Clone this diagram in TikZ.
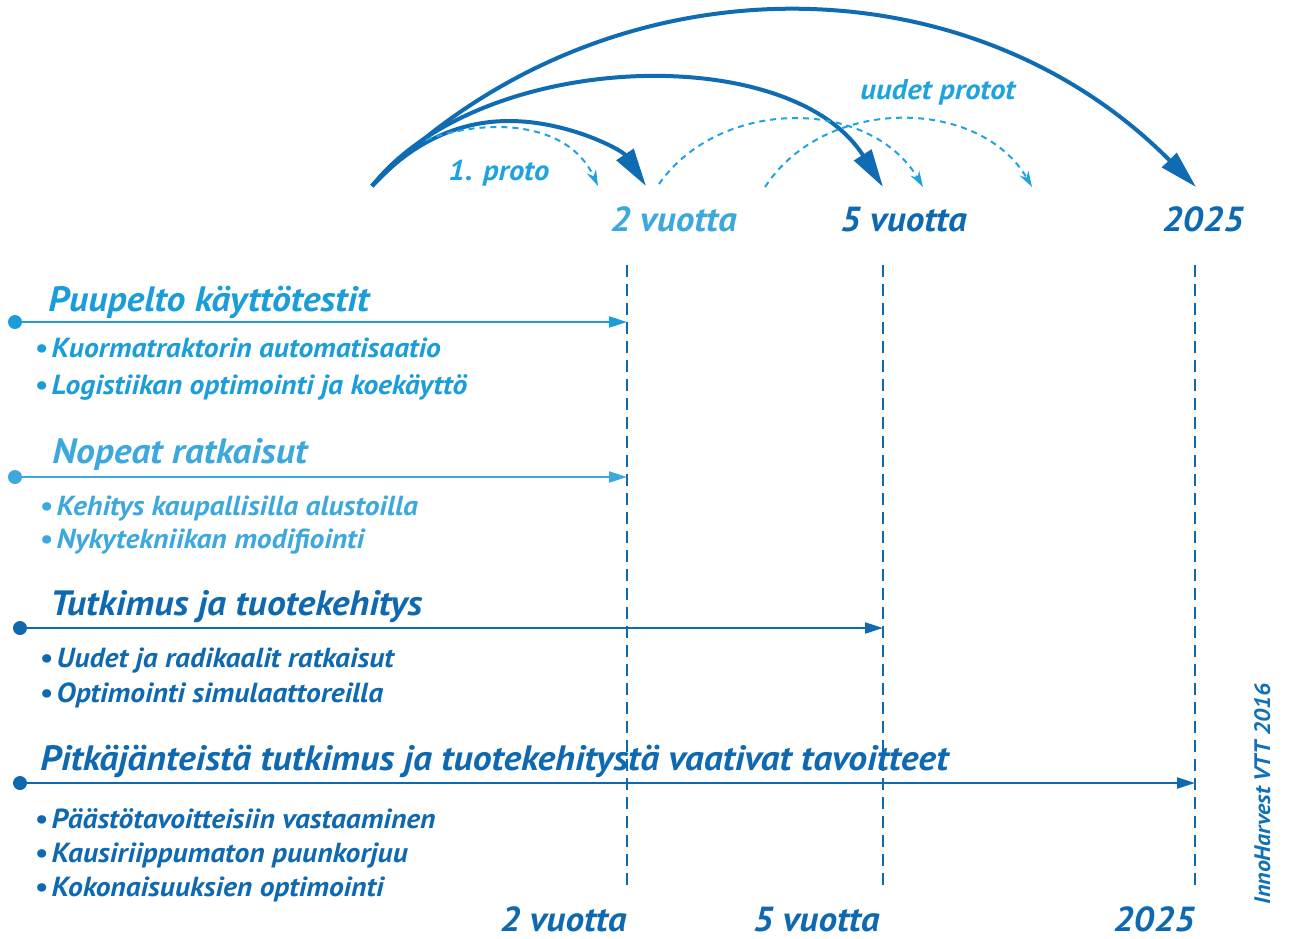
\documentclass[tikz,border=0pt]{standalone}
\usepackage{fontspec}
\setmainfont{PT Sans}[FakeStretch=1.07]
\usetikzlibrary{arrows.meta}
\definecolor{cyanA}{HTML}{1A9DD9}
\definecolor{cyanB}{HTML}{3DA8DC}
\definecolor{cyanC}{HTML}{1EA3DD}
\definecolor{navy}{HTML}{0F69B0}
\definecolor{arcblue}{HTML}{0F6CB3}
\newcommand{\bl}{•\kern2pt}
\tikzset{
  lab/.style={inner sep=0pt, font=\bfseries\itshape},
  ttl/.style={lab, anchor=base west, font=\fontsize{17.6}{20}\selectfont\bfseries\itshape},
  bul/.style={lab, anchor=base west, font=\fontsize{13.8}{16}\selectfont\bfseries\itshape},
  tick/.style={lab, font=\fontsize{17.4}{20}\selectfont\bfseries\itshape},
  small/.style={lab, anchor=base west, font=\fontsize{14.3}{16}\selectfont\bfseries\itshape},
  dot/.style={circle, inner sep=0pt, minimum size=7pt},
  rowline/.style={line width=1pt, -{Triangle[length=9pt,width=5.5pt]}},
  vline/.style={navy, line width=0.7pt, dash pattern=on 6pt off 3.5pt},
  bigarc/.style={arcblue, line width=2pt, -{Triangle[length=19pt,width=10pt]}},
  darc/.style={cyanC, line width=1pt, dash pattern=on 3pt off 2.5pt, -{Stealth[length=8pt,width=5pt]}}
}
\begin{document}
\begin{tikzpicture}[x=0.5pt,y=-0.5pt]
\useasboundingbox (0,0) rectangle (1290,938);

% vertical dashed guides
\coordinate (v2t) at (627,265); \coordinate (v2b) at (627,890);
\coordinate (v5t) at (883,265); \coordinate (v5b) at (883,890);
\coordinate (vYt) at (1195,265); \coordinate (vYb) at (1195,890);
\draw[vline] (v2t) -- (v2b);
\draw[vline] (v5t) -- (v5b);
\draw[vline] (vYt) -- (vYb);

% top arcs
\coordinate (s) at (372,186);
\coordinate (t2) at (646,186);
\coordinate (t5) at (883,187);
\coordinate (tY) at (1196,187);
\coordinate (p3) at (509,121);
\draw[bigarc] (s) .. controls (600,-46) and (965,-46) .. (tY);
\draw[bigarc] (s) .. controls (480,50) and (790,40) .. (t5);
\draw[bigarc] (s) .. controls (405,150) and (450,121) .. (p3) .. controls (568,121) and (622,150) .. (t2);

% dashed arcs
\coordinate (da1) at (426,140); \coordinate (db1) at (598,186);
\coordinate (da2) at (659,184); \coordinate (db2) at (923,187);
\coordinate (da3) at (765,187); \coordinate (db3) at (1032,187);
\draw[darc] (da1) .. controls (485,118) and (568,120) .. (db1);
\draw[darc] (da2) .. controls (720,97) and (870,97) .. (db2);
\draw[darc] (da3) .. controls (825,95) and (980,97) .. (db3);

\node[small, cyanC] (proto1) at (448,180) {1. proto};
\node[small, cyanC] (protot) at (860,99) {uudet protot};

% top tick labels
\node[tick, anchor=base west, cyanB] (top2) at (610,231) {2 vuotta};
\node[tick, anchor=base west, navy] (top5) at (840,231) {5 vuotta};
\node[tick, anchor=base west, navy] (topY) at (1162,231) {2025};

% bottom tick labels
\node[tick, anchor=base east, navy] (bot2) at (627,931) {2 vuotta};
\node[tick, anchor=base east, navy] (bot5) at (880,931) {5 vuotta};
\node[tick, anchor=base east, navy] (botY) at (1195,931) {2025};

% row 1
\node[ttl, cyanA] (r1) at (48,311) {Puupelto käyttötestit};
\node[dot, fill=cyanA] (d1) at (15,322) {};
\coordinate (e1) at (627,322);
\draw[rowline, cyanA] (d1.center) -- (e1);
\node[bul, cyanA] (r1a) at (34,357) {\bl Kuormatraktorin automatisaatio};
\node[bul, cyanA] (r1b) at (34,394) {\bl Logistiikan optimointi ja koekäyttö};

% row 2
\node[ttl, cyanB] (r2) at (52,463) {Nopeat ratkaisut};
\node[dot, fill=cyanB] (d2) at (15,477) {};
\coordinate (e2) at (627,477);
\draw[rowline, cyanB] (d2.center) -- (e2);
\node[bul, cyanB] (r2a) at (39,515) {\bl Kehitys kaupallisilla alustoilla};
\node[bul, cyanB] (r2b) at (39,548) {\bl Nykytekniikan modifiointi};

% row 3
\node[ttl, navy] (r3) at (50,615) {Tutkimus ja tuotekehitys};
\node[dot, fill=navy] (d3) at (20,628) {};
\coordinate (e3) at (883,628);
\draw[rowline, navy] (d3.center) -- (e3);
\node[bul, navy] (r3a) at (39,667) {\bl Uudet ja radikaalit ratkaisut};
\node[bul, navy] (r3b) at (39,702) {\bl Optimointi simulaattoreilla};

% row 4
\node[ttl, navy] (r4) at (40,770) {Pitkäjänteistä tutkimus ja tuotekehitystä vaativat tavoitteet};
\node[dot, fill=navy] (d4) at (20,783) {};
\coordinate (e4) at (1195,783);
\draw[rowline, navy] (d4.center) -- (e4);
\node[bul, navy] (r4a) at (34,828) {\bl Päästötavoitteisiin vastaaminen};
\node[bul, navy] (r4b) at (34,862) {\bl Kausiriippumaton puunkorjuu};
\node[bul, navy] (r4c) at (34,896) {\bl Kokonaisuuksien optimointi};

% credit
\node[lab, rotate=90, anchor=base west, font=\fontsize{11.2}{14}\selectfont\bfseries\itshape, navy!85!cyanA] (credit) at (1270,905) {InnoHarvest VTT 2016};
\end{tikzpicture}
\end{document}
